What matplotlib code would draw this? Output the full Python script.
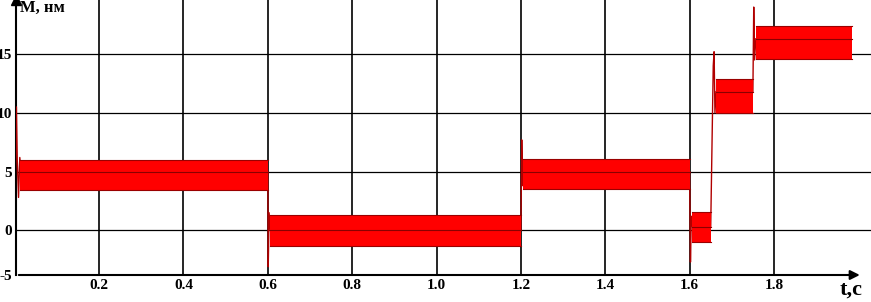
import matplotlib
matplotlib.use('Agg')
import matplotlib.pyplot as plt
import numpy as np

# steady parts of the torque signal: start, end, mean, upper / lower edge of the band
seg_start = [0.013, 0.605, 1.205, 1.605, 1.662, 1.757]
seg_end = [0.600, 1.200, 1.600, 1.650, 1.750, 1.985]
seg_mid = [5.0, 0.0, 5.0, 0.3, 11.8, 16.3]
seg_hi = [6.0, 1.3, 6.1, 1.6, 12.9, 17.4]
seg_lo = [3.4, -1.3, 3.5, -1.0, 10.0, 14.6]

# transients at the load changes
jump_t = [
    [0.0, 0.004, 0.006, 0.009, 0.012, 0.015],
    [0.600, 0.601, 0.603, 0.606],
    [1.200, 1.202, 1.204, 1.207],
    [1.600, 1.602, 1.604, 1.607],
    [1.650, 1.656, 1.658, 1.660, 1.663],
    [1.750, 1.752, 1.754, 1.757],
]
jump_m = [
    [0.0, 10.5, 6.0, 2.8, 6.2, 5.0],
    [5.0, -3.1, 1.5, 0.0],
    [0.0, 7.7, 3.8, 5.0],
    [5.0, -2.7, 1.2, 0.3],
    [0.3, 14.0, 15.2, 10.0, 11.8],
    [11.8, 19.0, 14.5, 16.3],
]

x_ticks = [0.2, 0.4, 0.6, 0.8, 1.0, 1.2, 1.4, 1.6, 1.8]
x_labels = ['0.2', '0.4', '0.6', '0.8', '1.0', '1.2', '1.4', '1.6', '1.8']
y_ticks = [-3.8, 0, 5, 10, 15]
y_labels = ['-5', '0', '5', '10', '15']

plt.rcParams['font.family'] = ['Liberation Serif', 'DejaVu Serif']
plt.rcParams['font.weight'] = 'bold'

fig = plt.figure(figsize=(8.71, 3.02), dpi=100)
ax = fig.add_axes([16 / 871, 27 / 302, 1 - 16 / 871, 1 - 27 / 302])

ax.set_xlim(0.003, 2.03)
ax.set_ylim(-3.8, 19.6)

for t, m in zip(jump_t, jump_m):
    ax.plot(t, m, color='#b00000', lw=1.0, zorder=3)

for s, e, mid, hi, lo in zip(seg_start, seg_end, seg_mid, seg_hi, seg_lo):
    ax.fill_between([s, e], [lo, lo], [hi, hi], color='#ff0000', lw=0, zorder=3)
    ax.plot([s, e], [hi, hi], color='#9a0000', lw=0.8, zorder=4)
    ax.plot([s, e], [lo, lo], color='#9a0000', lw=0.8, zorder=4)
    ax.plot([s, e], [mid, mid], color='#8a0000', lw=0.8, zorder=4)

for x in x_ticks:
    ax.axvline(x, color='black', lw=1.2, zorder=1)
for y in y_ticks[1:]:
    ax.axhline(y, color='black', lw=0.9, zorder=1)

ax.set_xticks(x_ticks)
ax.set_xticklabels(x_labels, fontsize=11, fontweight='bold')
ax.set_yticks(y_ticks)
ax.set_yticklabels(y_labels, fontsize=11, fontweight='bold')
ax.tick_params(length=0, pad=3)

for side in ['top', 'right', 'bottom']:
    ax.spines[side].set_visible(False)
ax.spines['left'].set_linewidth(1.5)

ax.annotate('', xy=(2.01, -3.8), xytext=(0.003, -3.8), xycoords='data',
            arrowprops=dict(arrowstyle='-|>', color='black', lw=1.5, mutation_scale=14),
            annotation_clip=False)
ax.plot(0, 1, '^', color='black', ms=7, transform=ax.transAxes, clip_on=False)

fig.text(20 / 871, 1 - 8 / 302, 'M, нм', fontsize=12, fontweight='bold', va='center')
fig.text(851 / 871, 1 - 290 / 302, 't,c', fontsize=16, fontweight='bold', va='center', ha='center')

plt.savefig('out.png', dpi=100)
